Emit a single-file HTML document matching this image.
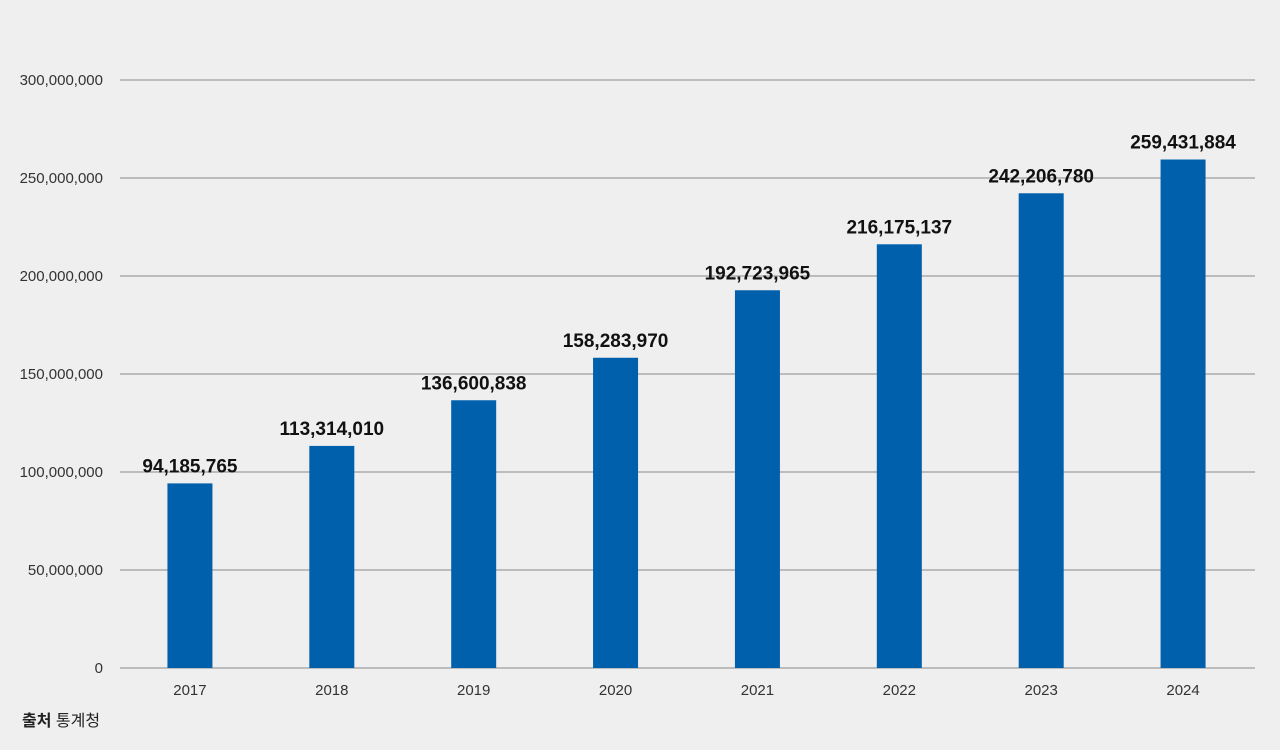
<!DOCTYPE html>
<html><head><meta charset="utf-8"><style>
html,body{margin:0;padding:0;background:#efefef;}
body{width:1280px;height:750px;overflow:hidden;position:relative;font-family:"Liberation Sans Narrow","Liberation Sans","Noto Sans CJK KR",sans-serif;}
svg{position:absolute;left:0;top:0;}
.src{position:absolute;left:22px;top:707px;font-size:16px;color:#222;font-family:"Liberation Sans","Noto Sans CJK KR",sans-serif;}
</style></head><body>
<svg id="chart" width="1280" height="750"></svg>
<div class="src"><b>출처</b> 통계청</div>
<script>
const categories=["2017","2018","2019","2020","2021","2022","2023","2024"];
const values=[94185765,113314010,136600838,158283970,192723965,216175137,242206780,259431884];
const valueLabels=["94,185,765","113,314,010","136,600,838","158,283,970","192,723,965","216,175,137","242,206,780","259,431,884"];
const yTicks=[0,50000000,100000000,150000000,200000000,250000000,300000000];
const yTickLabels=["0","50,000,000","100,000,000","150,000,000","200,000,000","250,000,000","300,000,000"];
const NS="http://www.w3.org/2000/svg";
const svg=document.getElementById("chart");
const L=120,R=1255,T=80,B=668,yMax=300000000;
const y=v=>B-(v/yMax)*(B-T);
const step=(R-L)/categories.length;
const xc=i=>L+step*(i+0.5)-1;
function mk(tag,attrs){const e=document.createElementNS(NS,tag);for(const k in attrs)e.setAttribute(k,attrs[k]);svg.appendChild(e);return e;}
yTicks.forEach((t,i)=>{
  const g=mk("line",{x1:L,x2:R,y1:y(t),y2:y(t),stroke:"#8a8a8a","stroke-width":1});
  
  
  const tx=mk("text",{x:103,y:y(t)+5,"text-anchor":"end","font-size":"15",fill:"#333"});
  tx.textContent=yTickLabels[i];
  
  
});
categories.forEach((c,i)=>{
  const w=45;
  const b=mk("rect",{x:xc(i)-w/2,y:y(values[i]),width:w,height:B-y(values[i]),fill:"#0060ab"});
  
  
  const v=mk("text",{x:xc(i),y:y(values[i])-11,"text-anchor":"middle","font-size":"19","font-weight":"bold",fill:"#111"});
  v.textContent=valueLabels[i];
  
  
  const xl=mk("text",{x:xc(i),y:695,"text-anchor":"middle","font-size":"15",fill:"#333"});
  xl.textContent=c;
  
  
});
</script>
</body></html>
